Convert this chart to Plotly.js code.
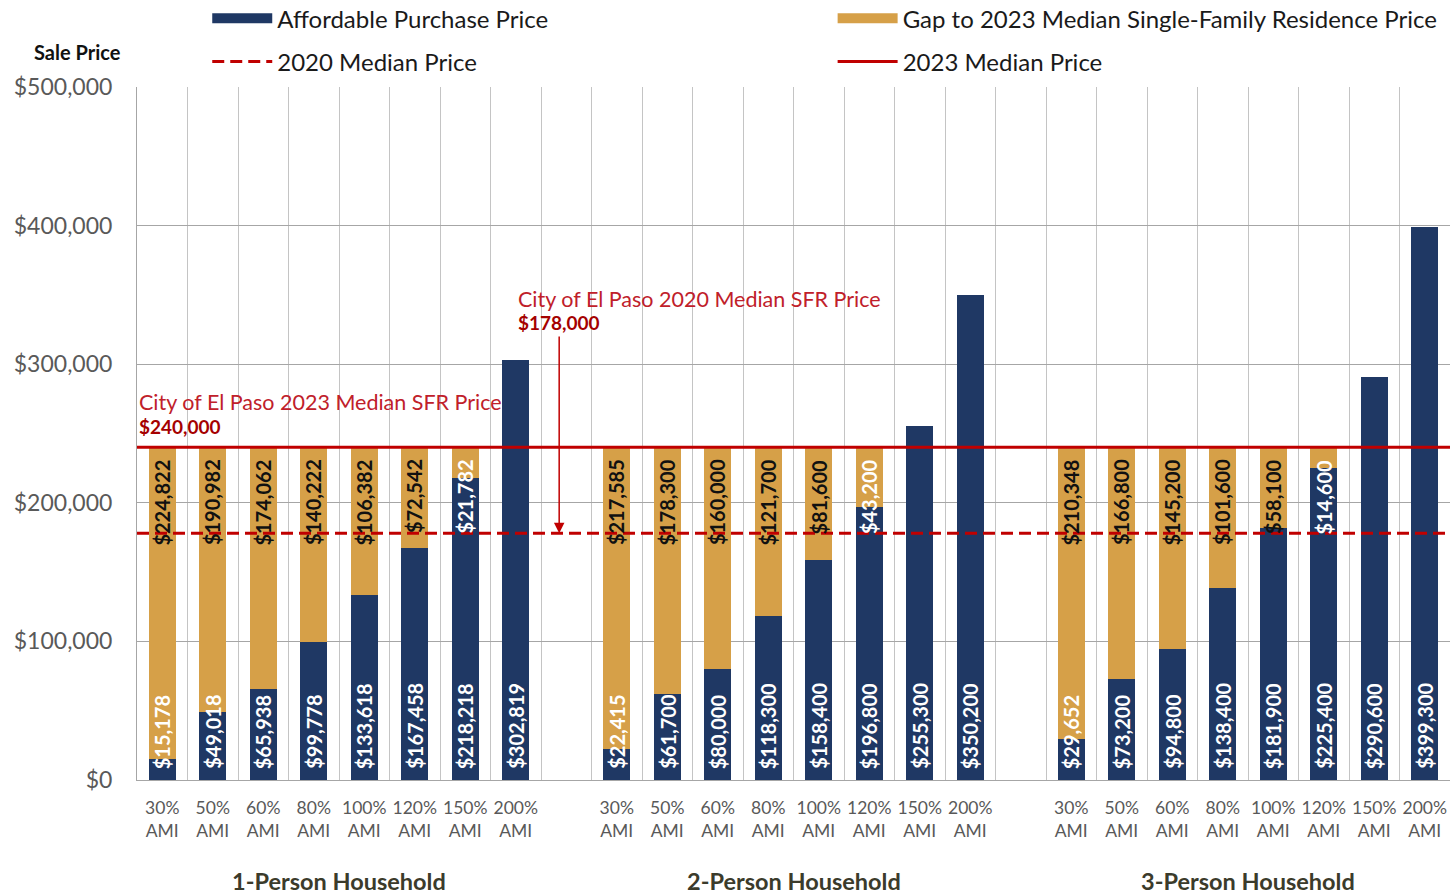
<!DOCTYPE html>
<html><head><meta charset="utf-8">
<script src="https://cdn.plot.ly/plotly-3.0.1.min.js"></script>
<style>html,body{margin:0;padding:0;background:#fff}</style>
</head><body><div id="chart" style="width:1450px;height:894px"></div>
<script>
// ---- data ----
const groups = ['1-Person Household', '2-Person Household', '3-Person Household'];
const amiLevels = ['30%', '50%', '60%', '80%', '100%', '120%', '150%', '200%'];
const affordable1 = [15178, 49018, 65938, 99778, 133618, 167458, 218218, 302819];
const affordable2 = [22415, 61700, 80000, 118300, 158400, 196800, 255300, 350200];
const affordable3 = [29652, 73200, 94800, 138400, 181900, 225400, 290600, 399300];
const gap1 = [224822, 190982, 174062, 140222, 106382, 72542, 21782, null];
const gap2 = [217585, 178300, 160000, 121700, 81600, 43200, null, null];
const gap3 = [210348, 166800, 145200, 101600, 58100, 14600, null, null];
const median2020 = 178000;
const median2023 = 240000;

// ---- build ----
const NAVY = '#1f3864', GOLD = '#d6a048', RED = '#c00000';
const FONT = 'Lato, "Open Sans", sans-serif';
const perGroup = amiLevels.length;
const slot = perGroup + 1;
const nSlots = groups.length * slot - 1;
const xRange = [-0.5, nSlots - 0.5];

const xs = [], tickText = [];
groups.forEach((g, gi) => amiLevels.forEach((a, i) => { xs.push(gi * slot + i); tickText.push(a + '<br>AMI'); }));
const affordable = [].concat(affordable1, affordable2, affordable3);
const gap = [].concat(gap1, gap2, gap3);
const fmt = v => '$' + v.toLocaleString('en-US');

const traces = [
  {
    type: 'bar', name: 'Affordable Purchase Price', x: xs, y: affordable,
    marker: {color: NAVY}, showlegend: false, hoverinfo: 'skip'
  },
  {
    type: 'bar', name: 'Gap to 2023 Median Single-Family Residence Price', x: xs, y: gap,
    marker: {color: GOLD}, showlegend: false, hoverinfo: 'skip'
  },
  {
    type: 'scatter', mode: 'lines', name: '2020 Median Price', x: xRange, y: [median2020, median2020],
    line: {color: RED, width: 3, dash: '12px,6px'}, showlegend: false, hoverinfo: 'skip'
  },
  {
    type: 'scatter', mode: 'lines', name: '2023 Median Price', x: xRange, y: [median2023, median2023],
    line: {color: RED, width: 3}, showlegend: false, hoverinfo: 'skip'
  },
  // legend entries (no marks of their own)
  {type: 'scatter', mode: 'lines', name: 'Affordable Purchase Price', x: [null], y: [null],
   line: {color: NAVY, width: 12}, legend: 'legend', legendgroup: 'a'},
  {type: 'scatter', mode: 'lines', name: '2020 Median Price', x: [null], y: [null],
   line: {color: RED, width: 3, dash: '12px,6px'}, legend: 'legend', legendgroup: 'c'},
  {type: 'scatter', mode: 'lines', name: 'Gap to 2023 Median Single-Family Residence Price', x: [null], y: [null],
   line: {color: GOLD, width: 12}, legend: 'legend2', legendgroup: 'b'},
  {type: 'scatter', mode: 'lines', name: '2023 Median Price', x: [null], y: [null],
   line: {color: RED, width: 3}, legend: 'legend2', legendgroup: 'd'}
];

const annotations = [
  {xref: 'paper', yref: 'paper', x: -0.045, y: 1.05, text: '<b>Sale Price</b>', showarrow: false,
   font: {family: FONT, size: 20, color: '#111111'}, xanchor: 'center', yanchor: 'middle'},
  {xref: 'x', yref: 'y', x: xRange[0], y: 272700, text: 'City of El Paso 2023 Median SFR Price', showarrow: false,
   xanchor: 'left', yanchor: 'middle', font: {family: FONT, size: 21.5, color: '#c0202a'}},
  {xref: 'x', yref: 'y', x: xRange[0], y: 255400, text: '<b>' + fmt(median2023) + '</b>', showarrow: false,
   xanchor: 'left', yanchor: 'middle', font: {family: FONT, size: 19, color: '#a50000'}},
  {xref: 'x', yref: 'y', x: 7.0, y: 347000, text: 'City of El Paso 2020 Median SFR Price', showarrow: false,
   xanchor: 'left', yanchor: 'middle', font: {family: FONT, size: 21.5, color: '#c0202a'}},
  {xref: 'x', yref: 'y', x: 7.0, y: 330400, text: '<b>' + fmt(median2020) + '</b>', showarrow: false,
   xanchor: 'left', yanchor: 'middle', font: {family: FONT, size: 19, color: '#a50000'}},
  {xref: 'x', yref: 'y', x: 7.86, y: median2020, axref: 'x', ayref: 'y', ax: 7.86, ay: 321000, text: '',
   showarrow: true, arrowhead: 2, arrowsize: 1.4, arrowwidth: 1.5, arrowcolor: RED, standoff: 0, startstandoff: 0}
];
groups.forEach((g, gi) => annotations.push({
  xref: 'x', yref: 'paper', x: gi * slot + (perGroup - 1) / 2, y: -0.146, text: '<b>' + g + '</b>',
  showarrow: false, xanchor: 'center', yanchor: 'middle', font: {family: FONT, size: 23.5, color: '#3b3b2b'}
}));
// value labels, drawn above every bar
xs.forEach((x, k) => {
  annotations.push({
    xref: 'x', yref: 'y', x: x, y: 0, yanchor: 'bottom', xanchor: 'center', yshift: 9,
    text: '<b>' + fmt(affordable[k]) + '</b>', textangle: -90, showarrow: false,
    font: {family: FONT, size: 20, color: '#ffffff'}
  });
  if (gap[k] != null) annotations.push({
    xref: 'x', yref: 'y', x: x, y: affordable[k] + gap[k], yanchor: 'top', xanchor: 'center', yshift: -10,
    text: '<b>' + fmt(gap[k]) + '</b>', textangle: -90, showarrow: false,
    font: {family: FONT, size: 20, color: gap[k] < 50000 ? '#ffffff' : '#111111'}
  });
});

const legendBase = {
  orientation: 'v', yanchor: 'top', xanchor: 'left', y: 1.131, bgcolor: 'rgba(0,0,0,0)',
  font: {family: FONT, size: 24, color: '#1a1a1a'}, itemwidth: 60, traceorder: 'grouped', tracegroupgap: 9
};

const layout = {
  width: 1450, height: 894,
  margin: {l: 137, r: 0, t: 87, b: 114, autoexpand: false},
  paper_bgcolor: '#ffffff', plot_bgcolor: '#ffffff',
  font: {family: FONT, color: '#595959'},
  barmode: 'stack', bargap: 0.46,
  showlegend: true,
  legend: Object.assign({}, legendBase, {x: 0.0535}),
  legend2: Object.assign({}, legendBase, {x: 0.5298}),
  xaxis: {
    range: xRange, tickmode: 'array', tickvals: xs, ticktext: tickText,
    showgrid: false, zeroline: false, showline: true, linecolor: '#a6a6a6', linewidth: 1,
    ticks: '', ticklabelstandoff: 12, tickfont: {family: FONT, size: 17.5, color: '#595959'},
    minor: {tick0: 0.5, dtick: 1, showgrid: true, gridcolor: '#c4c4c4', gridwidth: 1, ticks: ''},
    fixedrange: true
  },
  yaxis: {
    range: [0, 500000], dtick: 100000, tickformat: '$,.0f',
    showgrid: true, gridcolor: '#a6a6a6', gridwidth: 1, zeroline: false,
    showline: true, linecolor: '#a6a6a6', ticks: '', ticklabelstandoff: 19,
    tickfont: {family: FONT, size: 23, color: '#595959'}, fixedrange: true
  },
  annotations: annotations,
  hovermode: false
};

Plotly.newPlot('chart', traces, layout, {displayModeBar: false, staticPlot: true});
</script>
</body></html>
